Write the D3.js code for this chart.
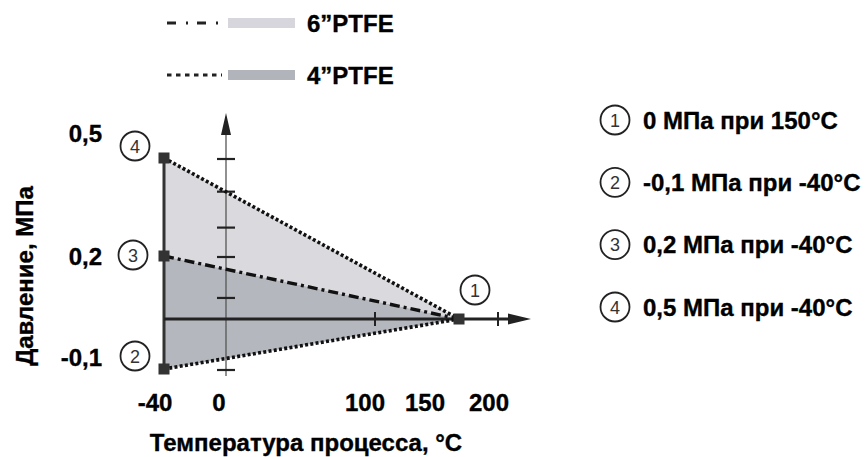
<!DOCTYPE html>
<html><head><meta charset="utf-8">
<script src="https://cdn.jsdelivr.net/npm/d3@7"></script>
<style>
html,body{margin:0;padding:0;background:#fff;}
svg{display:block;font-family:"Liberation Sans",Arial,sans-serif;}
</style></head>
<body><svg id="c" width="865" height="457"></svg>
<script>
// ---- data ----
const xTickValues = [-40, 0, 100, 150, 200];
const xTickLabels = ["-40", "0", "100", "150", "200"];
const yTickValues = [0.5, 0.2, -0.1];
const yTickLabels = ["0,5", "0,2", "-0,1"];
const yAxisMarks = [0.5, 0.4, 0.29, 0.2, 0.07, -0.1];
const xAxisMarks = [100, 200];
const upperDotted = [[-40, 0.5], [150, 0]];
const dashDot = [[-40, 0.2], [150, 0]];
const lowerDotted = [[-40, -0.1], [150, 0]];
const lightArea = [[-40, 0.5], [150, 0], [-40, 0.2]];
const darkArea = [[-40, 0.2], [150, 0], [-40, -0.1]];
const pointIds = [1, 2, 3, 4];
const pointT = [150, -40, -40, -40];
const pointP = [0, -0.1, 0.2, 0.5];
const noteTexts = ["0 МПа при 150°C", "-0,1 МПа при -40°C", "0,2 МПа при -40°C", "0,5 МПа при -40°C"];
const legendNames = ["6”PTFE", "4”PTFE"];
const xTitle = "Температура процесса, °C";
const yTitle = "Давление, МПа";

// ---- scales (schematic, piecewise) ----
const x = d3.scaleLinear().domain([-40, 0, 100, 150, 200]).range([164, 226, 375, 459, 498]);
const y = d3.scaleLinear().domain([-0.1, 0, 0.2, 0.5]).range([369, 319, 256, 158]);
const xLab = d3.scaleLinear().domain([-40, 0, 100, 150, 200]).range([155, 219, 365, 425, 489]);
const yLab = d3.scaleLinear().domain([-0.1, 0.2, 0.5]).range([366, 265, 142]);

const svg = d3.select("#c");
const FS = 24;
const lightFill = "#d9d9de", darkFill = "#b5b7be", ink = "#222";
const line = d3.line().x(d => x(d[0])).y(d => y(d[1]));

function boldText(sel) {
  return sel.attr("font-size", FS).attr("font-weight", "bold").attr("fill", "#000")
    .attr("stroke", "#000").attr("stroke-width", 0.35);
}

// areas
svg.append("path").attr("d", line(lightArea) + "Z").attr("fill", lightFill);
svg.append("path").attr("d", line(darkArea) + "Z").attr("fill", darkFill);

// vertical thin axis at t=0
svg.append("line").attr("x1", x(0)).attr("x2", x(0)).attr("y1", y(-0.1) + 7).attr("y2", 132)
  .attr("stroke", "#555").attr("stroke-width", 1.3);
svg.append("path").attr("d", `M${x(0)},113 L${x(0) - 5},135 L${x(0) + 5},135 Z`).attr("fill", ink);
svg.selectAll(".ytk").data(yAxisMarks).join("line")
  .attr("x1", x(0) - 9).attr("x2", x(0) + 9).attr("y1", d => y(d) + 1).attr("y2", d => y(d) + 1)
  .attr("stroke", ink).attr("stroke-width", 2.2);

// left bound line
svg.append("line").attr("x1", x(-40)).attr("x2", x(-40)).attr("y1", y(0.5)).attr("y2", y(-0.1))
  .attr("stroke", "#333").attr("stroke-width", 3);

// horizontal zero axis
svg.append("line").attr("x1", x(-40)).attr("x2", 514).attr("y1", y(0)).attr("y2", y(0))
  .attr("stroke", ink).attr("stroke-width", 3);
svg.append("path").attr("d", `M531,${y(0)} L508,${y(0) - 5.5} L508,${y(0) + 5.5} Z`).attr("fill", ink);
svg.selectAll(".xtk").data(xAxisMarks).join("line")
  .attr("x1", d => x(d)).attr("x2", d => x(d)).attr("y1", y(0) - 7).attr("y2", y(0) + 7)
  .attr("stroke", ink).attr("stroke-width", 2);

// boundary lines
svg.append("path").attr("d", line(upperDotted)).attr("fill", "none").attr("stroke", "#111")
  .attr("stroke-width", 3.6).attr("stroke-dasharray", "3 2.3");
svg.append("path").attr("d", line(lowerDotted)).attr("fill", "none").attr("stroke", "#111")
  .attr("stroke-width", 3.6).attr("stroke-dasharray", "3 2.3");
svg.append("path").attr("d", line(dashDot)).attr("fill", "none").attr("stroke", "#111")
  .attr("stroke-width", 3.4).attr("stroke-dasharray", "10 4 3 4");

// markers
const pts = pointIds.map((id, i) => ({id, t: pointT[i], p: pointP[i]}));
svg.selectAll(".mk").data(pts).join("rect")
  .attr("x", d => x(d.t) - 5.5).attr("y", d => y(d.p) - 5.5).attr("width", 11).attr("height", 11)
  .attr("fill", "#333");

// circled labels near points
const circOff = {1: [16, -29], 2: [-29, -13], 3: [-31, -1], 4: [-29, -12]};
function circled(g, cx, cy, txt) {
  g.append("circle").attr("cx", cx).attr("cy", cy).attr("r", 14.5)
    .attr("fill", "#fff").attr("stroke", ink).attr("stroke-width", 1.8);
  g.append("text").attr("x", cx).attr("y", cy + 6.5).attr("text-anchor", "middle")
    .attr("font-size", 18).attr("fill", "#333").text(txt);
}
pts.forEach(d => circled(svg, x(d.t) + circOff[d.id][0], y(d.p) + circOff[d.id][1], d.id));

// y tick labels
svg.selectAll(".ylab").data(yTickValues).join("text")
  .attr("x", 102).attr("y", d => yLab(d)).attr("text-anchor", "end")
  .call(boldText).text((d, i) => yTickLabels[i]);

// x tick labels
svg.selectAll(".xlab").data(xTickValues).join("text")
  .attr("x", d => xLab(d)).attr("y", 411).attr("text-anchor", "middle")
  .call(boldText).text((d, i) => xTickLabels[i]);

// axis titles
svg.append("text").attr("x", 306).attr("y", 451).attr("text-anchor", "middle")
  .call(boldText).text(xTitle);
svg.append("text").attr("transform", "translate(33,276) rotate(-90)").attr("text-anchor", "middle")
  .call(boldText).text(yTitle);

// legend
const lg = svg.append("g");
[0, 1].forEach(i => {
  const cy = i === 0 ? 23 : 75;
  lg.append("line").attr("x1", 167).attr("x2", 222).attr("y1", cy).attr("y2", cy)
    .attr("stroke", ink).attr("stroke-width", 2.8)
    .attr("stroke-dasharray", i === 0 ? "9 10 2 9" : "4.5 4.5");
  lg.append("rect").attr("x", 228).attr("y", cy - 5).attr("width", 67).attr("height", 10)
    .attr("fill", i === 0 ? "#d6d6dc" : "#b2b4bb");
  lg.append("text").attr("x", 307).attr("y", cy + 8.5).call(boldText).text(legendNames[i]);
});

// right notes
const noteY = d3.scalePoint().domain(pointIds).range([120, 307]);
pointIds.forEach((id, i) => {
  circled(svg, 615, noteY(id), id);
  svg.append("text").attr("x", 643).attr("y", noteY(id) + 8.5).call(boldText).text(noteTexts[i]);
});
</script>
</body></html>
